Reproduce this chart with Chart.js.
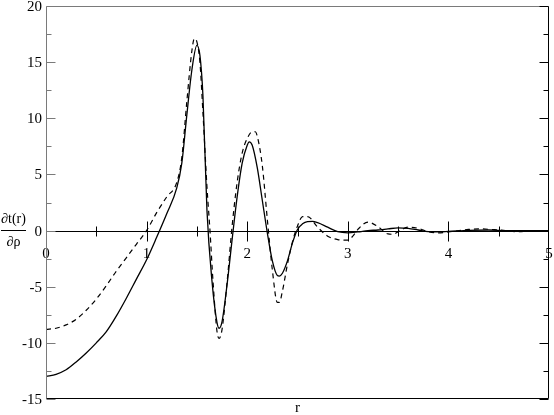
<!DOCTYPE html>
<html><head><meta charset="utf-8">
<script src="https://cdn.jsdelivr.net/npm/chart.js@4/dist/chart.umd.min.js"></script>
<style>html,body{margin:0;padding:0;background:#fff;}canvas{display:block;}</style>
</head><body>
<canvas id="c" width="554" height="415"></canvas>
<script>
const rSolid = [0,0.1,0.2,0.3,0.4,0.5,0.6,0.7,0.8,0.9,1.0,1.1,1.2,1.3,1.35,1.4,1.45,1.5,1.53,1.56,1.6,1.65,1.7,1.72,1.75,1.8,1.85,1.9,1.95,2.0,2.02,2.05,2.1,2.15,2.2,2.25,2.3,2.32,2.35,2.4,2.45,2.5,2.55,2.6,2.65,2.7,2.8,2.9,3.0,3.1,3.2,3.3,3.4,3.5,3.6,3.7,3.8,3.9,4.0,4.2,4.4,4.6,4.8,5.0];
const solidValues = [-13.0,-12.8,-12.4,-11.7,-10.9,-10.0,-9.0,-7.6,-6.0,-4.3,-2.6,-0.6,1.5,3.8,6.0,10.3,14.3,16.5,15.6,12.0,1.8,-4.5,-8.2,-8.7,-8.1,-4.8,-0.8,3.0,6.0,7.6,7.9,7.6,5.6,2.7,-0.2,-2.7,-4.0,-4.05,-3.8,-2.7,-1.1,0.1,0.6,0.8,0.82,0.7,0.3,-0.1,-0.2,-0.12,0.0,0.05,0.15,0.24,0.2,0.05,-0.1,-0.12,-0.08,0.02,0.05,0.0,0.0,0.0];
const rDashed = [0,0.1,0.2,0.3,0.4,0.5,0.6,0.7,0.8,0.9,1.0,1.1,1.2,1.3,1.35,1.4,1.45,1.475,1.5,1.53,1.56,1.6,1.63,1.66,1.7,1.72,1.75,1.8,1.85,1.9,1.95,2.0,2.05,2.08,2.1,2.15,2.2,2.25,2.3,2.32,2.35,2.4,2.45,2.5,2.55,2.6,2.7,2.8,2.9,3.0,3.05,3.1,3.2,3.3,3.4,3.45,3.5,3.6,3.7,3.8,3.9,4.0,4.2,4.3,4.5,4.7,4.9,5.0];
const dashedValues = [-8.8,-8.7,-8.4,-7.9,-7.1,-6.1,-4.9,-3.6,-2.4,-1.2,0.0,1.6,3.0,4.3,6.5,11.5,16.0,17.1,16.8,15.0,10.5,3.9,0.0,-4.5,-9.0,-9.6,-8.8,-4.6,0.4,4.3,6.9,8.2,8.8,8.8,8.4,5.8,1.0,-3.5,-6.4,-6.4,-5.4,-3.0,-1.0,0.4,1.25,1.25,0.3,-0.5,-0.8,-0.85,-0.5,0.1,0.75,0.35,-0.3,-0.33,-0.1,0.3,0.2,-0.1,-0.2,-0.12,0.1,0.15,0.05,-0.1,0.0,0.0];
const xTickLabels = ["0","1","2","3","4","5"];
const yTickLabels = ["-15","-10","-5","0","5","10","15","20"];
const xTitle = "r";
const yTitleTop = "\u2202t(r)";
const yTitleBottom = "\u2202\u03c1";

const FONT = "'Liberation Serif','Times New Roman',serif";

const framePlugin = {
  id: 'frame',
  beforeDatasetsDraw(chart) {
    const ctx = chart.ctx, xs = chart.scales.x, ys = chart.scales.y;
    const y0 = Math.round(ys.getPixelForValue(0)) + 0.5;
    ctx.save();
    ctx.strokeStyle = '#000'; ctx.lineWidth = 1;
    ctx.beginPath();
    ctx.moveTo(xs.getPixelForValue(0), y0); ctx.lineTo(xs.getPixelForValue(5), y0);
    for (let v = 0; v <= 5.001; v += 0.5) {
      const px = Math.round(xs.getPixelForValue(v)) + 0.5;
      const major = Math.abs(v - Math.round(v)) < 1e-6;
      const L = major ? 10 : 5;
      if (v > 0.01 && v < 4.99) { ctx.moveTo(px, y0 - L); ctx.lineTo(px, y0 + L); }
    }
    ctx.stroke();
    ctx.fillStyle = '#000'; ctx.font = '15px ' + FONT;
    ctx.textAlign = 'center'; ctx.textBaseline = 'middle';
    xTickLabels.forEach((t) => {
      ctx.fillText(t, xs.getPixelForValue(Number(t)), y0 + 23);
    });
    ctx.textAlign = 'right';
    yTickLabels.forEach((t) => {
      ctx.fillText(t, chart.chartArea.left - 4, ys.getPixelForValue(Number(t)) + 1);
    });
    ctx.restore();
  },
  afterDraw(chart) {
    const ctx = chart.ctx, xs = chart.scales.x, ys = chart.scales.y;
    const a = chart.chartArea;
    const L = Math.round(a.left) + 0.5, R = Math.round(a.right) - 0.5;
    const T = Math.round(a.top) + 0.5, B = Math.round(a.bottom) - 0.5;
    ctx.save();
    ctx.lineWidth = 1;
    ctx.strokeStyle = '#7a7a7a';
    ctx.beginPath();
    ctx.moveTo(L, B); ctx.lineTo(L, T); ctx.lineTo(R, T);
    for (let v = -15; v <= 20.001; v += 2.5) {
      const py = Math.round(ys.getPixelForValue(v)) + 0.5;
      const major = Math.abs(v / 5 - Math.round(v / 5)) < 1e-6;
      ctx.moveTo(L, py); ctx.lineTo(L + (major ? 9 : 5), py);
    }
    ctx.stroke();
    ctx.strokeStyle = '#000';
    ctx.beginPath();
    ctx.moveTo(L, B); ctx.lineTo(R, B); ctx.lineTo(R, T);
    for (let v = -15; v <= 20.001; v += 2.5) {
      const py = Math.round(ys.getPixelForValue(v)) + 0.5;
      const major = Math.abs(v / 5 - Math.round(v / 5)) < 1e-6;
      ctx.moveTo(R, py); ctx.lineTo(R - (major ? 9 : 5), py);
    }
    ctx.stroke();
    ctx.fillStyle = '#000';
    ctx.font = '15px ' + FONT;
    ctx.textAlign = 'center'; ctx.textBaseline = 'middle';
    ctx.fillText(xTitle, (a.left + a.right) / 2, 408);
    const y0 = ys.getPixelForValue(0);
    ctx.font = '14px ' + FONT;
    ctx.fillText(yTitleTop, 13.5, y0 - 11);
    ctx.fillText(yTitleBottom, 13.5, y0 + 12);
    ctx.beginPath(); ctx.moveTo(1, Math.round(y0) - 0.5); ctx.lineTo(26, Math.round(y0) - 0.5); ctx.stroke();
    ctx.restore();
  }
};

new Chart(document.getElementById('c'), {
  type: 'line',
  data: {
    datasets: [
      { label: 'solid', data: rSolid.map((r, i) => ({x: r, y: solidValues[i]})),
        borderColor: '#000', borderWidth: 1.3, pointRadius: 0, fill: false,
        cubicInterpolationMode: 'monotone' },
      { label: 'dashed', data: rDashed.map((r, i) => ({x: r, y: dashedValues[i]})),
        borderColor: '#000', borderWidth: 1.2, borderDash: [5, 4], pointRadius: 0, fill: false,
        cubicInterpolationMode: 'monotone' }
    ]
  },
  options: {
    responsive: false, animation: false, devicePixelRatio: 1,
    layout: { padding: { top: 6, right: 5, left: 46, bottom: 16 } },
    plugins: { legend: { display: false }, tooltip: { enabled: false } },
    scales: {
      x: { type: 'linear', min: 0, max: 5, display: false },
      y: { type: 'linear', min: -15, max: 20, display: false }
    }
  },
  plugins: [framePlugin]
});
</script>
</body></html>
